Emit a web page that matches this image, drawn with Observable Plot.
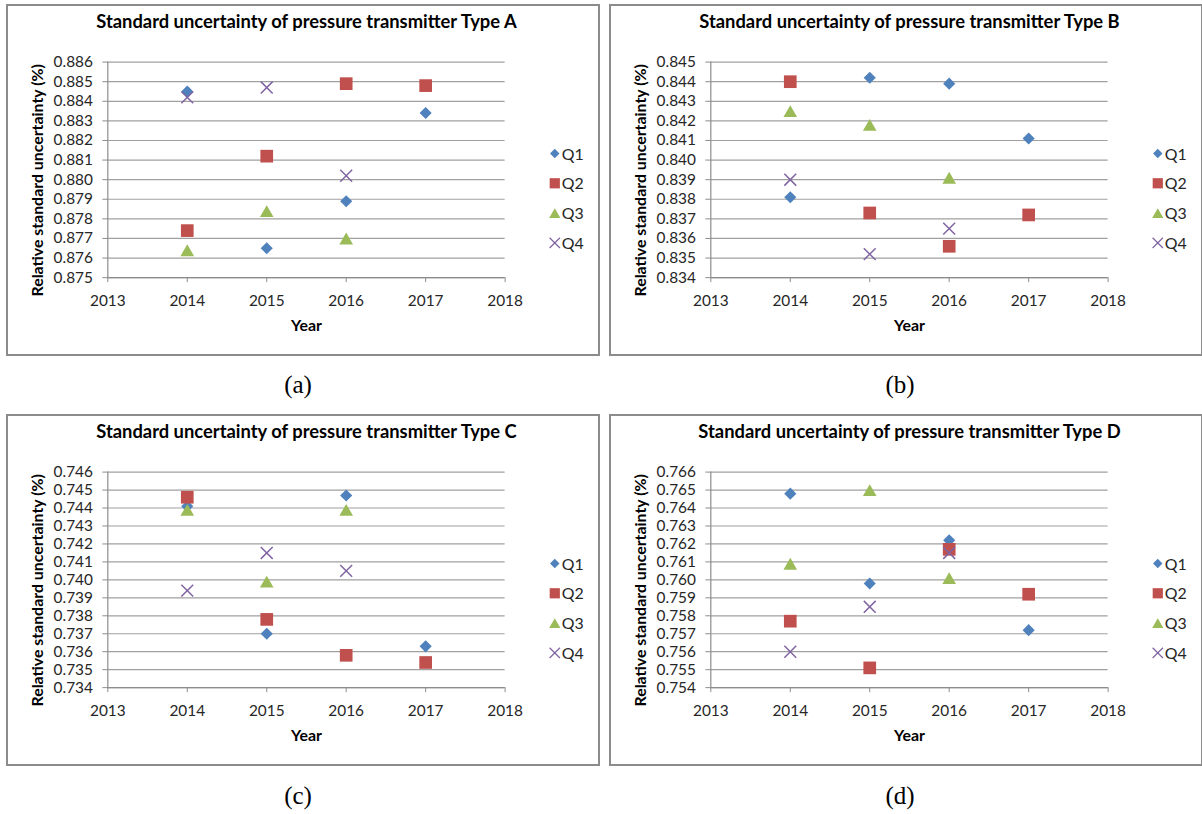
<!DOCTYPE html>
<html><head><meta charset="utf-8">
<script src="https://cdn.jsdelivr.net/npm/d3@7"></script>
<script src="https://cdn.jsdelivr.net/npm/@observablehq/plot@0.6"></script>
<style>
html,body{margin:0;padding:0;background:#fff;}
body{width:1202px;height:814px;position:relative;overflow:hidden;font-family:Lato,sans-serif;}
.panel{position:absolute;width:594px;height:352px;box-sizing:border-box;border:2px solid #8c8c8c;}
.panel svg{position:absolute;left:-2px;top:-2px;overflow:visible;}
.cap{position:absolute;font-family:"Liberation Serif",serif;font-size:25px;transform:translate(-50%,-50%);color:#000;}
</style></head><body>
<script>
// ---- data ----
const years = [2014, 2015, 2016, 2017];
const xTicks = [2013, 2014, 2015, 2016, 2017, 2018];
const seriesNames = ["Q1", "Q2", "Q3", "Q4"];

const yTicksA = [0.875, 0.876, 0.877, 0.878, 0.879, 0.880, 0.881, 0.882, 0.883, 0.884, 0.885, 0.886];
const yTicksB = [0.834, 0.835, 0.836, 0.837, 0.838, 0.839, 0.840, 0.841, 0.842, 0.843, 0.844, 0.845];
const yTicksC = [0.734, 0.735, 0.736, 0.737, 0.738, 0.739, 0.740, 0.741, 0.742, 0.743, 0.744, 0.745, 0.746];
const yTicksD = [0.754, 0.755, 0.756, 0.757, 0.758, 0.759, 0.760, 0.761, 0.762, 0.763, 0.764, 0.765, 0.766];

const typeA_Q1 = [0.8845, 0.8765, 0.8789, 0.8834];
const typeA_Q2 = [0.8774, 0.8812, 0.8849, 0.8848];
const typeA_Q3 = [0.8764, 0.8784, 0.8770];
const typeA_Q4 = [0.8842, 0.8847, 0.8802];

const typeB_Q1 = [0.8381, 0.8442, 0.8439, 0.8411];
const typeB_Q2 = [0.8440, 0.8373, 0.8356, 0.8372];
const typeB_Q3 = [0.8425, 0.8418, 0.8391];
const typeB_Q4 = [0.8390, 0.8352, 0.8365];

const typeC_Q1 = [0.7441, 0.7370, 0.7447, 0.7363];
const typeC_Q2 = [0.7446, 0.7378, 0.7358, 0.7354];
const typeC_Q3 = [0.7439, 0.7399, 0.7439];
const typeC_Q4 = [0.7394, 0.7415, 0.7405];

const typeD_Q1 = [0.7648, 0.7598, 0.7622, 0.7572];
const typeD_Q2 = [0.7577, 0.7551, 0.7617, 0.7592];
const typeD_Q3 = [0.7609, 0.7650, 0.7601];
const typeD_Q4 = [0.7560, 0.7585, 0.7615];

const titles = [
  "Standard uncertainty of pressure transmitter Type A",
  "Standard uncertainty of pressure transmitter Type B",
  "Standard uncertainty of pressure transmitter Type C",
  "Standard uncertainty of pressure transmitter Type D"
];
const captions = ["(a)", "(b)", "(c)", "(d)"];
const xLabel = "Year";
const yLabel = "Relative standard uncertainty (%)";

// ---- styles ----
const seriesStyle = [
  {symbol: "diamond2", color: "#4F81BD", r: 5.5, lr: 4.3, filled: true, dy: 0},
  {symbol: "square", color: "#C0504D", r: 7.2, lr: 5.8, filled: true, dy: 0},
  {symbol: "triangle", color: "#9BBB59", r: 5.1, lr: 4.2, filled: true, dy: 2},
  {symbol: "times", color: "#8064A2", r: 5.5, lr: 4.8, filled: false, dy: 0}
];

const panels = [
  {left: 6, top: 4, title: titles[0], caption: captions[0], capX: 298, capY: 385, ticks: yTicksA, q: [typeA_Q1, typeA_Q2, typeA_Q3, typeA_Q4]},
  {left: 609, top: 4, title: titles[1], caption: captions[1], capX: 900, capY: 385, ticks: yTicksB, q: [typeB_Q1, typeB_Q2, typeB_Q3, typeB_Q4]},
  {left: 6, top: 414, title: titles[2], caption: captions[2], capX: 298, capY: 796, ticks: yTicksC, q: [typeC_Q1, typeC_Q2, typeC_Q3, typeC_Q4]},
  {left: 609, top: 414, title: titles[3], caption: captions[3], capX: 900, capY: 796, ticks: yTicksD, q: [typeD_Q1, typeD_Q2, typeD_Q3, typeD_Q4]}
];

const fmt = d3.format(".3f");

panels.forEach(p => {
  const yDomain = [p.ticks[0], p.ticks[p.ticks.length - 1]];
  const dotMarks = [];
  const legendMarks = [];
  p.q.forEach((vals, i) => {
    const s = seriesStyle[i];
    const rows = vals.map((v, j) => ({year: years[j], value: v, series: seriesNames[i]}));
    const opts = {x: "year", y: "value", symbol: s.symbol, r: s.r, dy: s.dy};
    if (s.filled) { opts.fill = s.color; opts.stroke = "none"; }
    else { opts.stroke = s.color; opts.fill = "none"; opts.strokeWidth = 1.5; }
    dotMarks.push(Plot.dot(rows, opts));
    const lopts = {frameAnchor: "top-right", dx: 50, dy: 92 + 30 * i + s.dy * 0.8, symbol: s.symbol, r: s.lr};
    if (s.filled) { lopts.fill = s.color; lopts.stroke = "none"; }
    else { lopts.stroke = s.color; lopts.fill = "none"; lopts.strokeWidth = 1.2; }
    legendMarks.push(Plot.dot([seriesNames[i]], lopts));
    legendMarks.push(Plot.text([seriesNames[i]], {text: d => d, frameAnchor: "top-right", dx: 57, dy: 93 + 30 * i, textAnchor: "start", lineAnchor: "middle", fontSize: 16, fill: "#262626"}));
  });

  const chart = Plot.plot({
    width: 594, height: 352,
    marginTop: 58, marginRight: 92, marginBottom: 77, marginLeft: 102,
    style: {fontFamily: "Lato, sans-serif", fontSize: "15.5px", color: "#262626", background: "transparent", overflow: "visible"},
    x: {domain: [2013, 2018]},
    y: {domain: yDomain},
    marks: [
      Plot.gridY(p.ticks, {stroke: "#a0a0a0", strokeOpacity: 1, strokeWidth: 1.2}),
      Plot.ruleX([2013], {stroke: "#8c8c8c", strokeWidth: 1.2}),
      Plot.ruleY([yDomain[0]], {stroke: "#8c8c8c", strokeWidth: 1.2}),
      Plot.axisY({ticks: p.ticks, tickFormat: fmt, tickSize: 5, tickPadding: 10, stroke: "#8c8c8c", fill: "#262626", fontSize: 15.5, label: null}),
      Plot.axisX({ticks: xTicks, tickFormat: "d", tickSize: 5, tickPadding: 13, stroke: "#8c8c8c", fill: "#262626", fontSize: 15.5, label: null}),
      ...dotMarks,
      ...legendMarks,
      Plot.text([p.title], {text: d => d, frameAnchor: "top", dy: -40, lineAnchor: "middle", fontWeight: "bold", fontSize: 18.5, fill: "#000"}),
      Plot.text([xLabel], {text: d => d, frameAnchor: "bottom", dy: 49, lineAnchor: "middle", fontWeight: "bold", fontSize: 16, fill: "#000"}),
      Plot.text([yLabel], {text: d => d, frameAnchor: "left", rotate: -90, dx: -70, dy: 10.5, textAnchor: "middle", lineAnchor: "middle", fontWeight: "bold", fontSize: 16, fill: "#000"})
    ]
  });

  const div = document.createElement("div");
  div.className = "panel";
  div.style.left = p.left + "px";
  div.style.top = p.top + "px";
  div.appendChild(chart);
  document.body.appendChild(div);

  const cap = document.createElement("div");
  cap.className = "cap";
  cap.style.left = p.capX + "px";
  cap.style.top = p.capY + "px";
  cap.textContent = p.caption;
  document.body.appendChild(cap);
});
</script>
</body></html>
